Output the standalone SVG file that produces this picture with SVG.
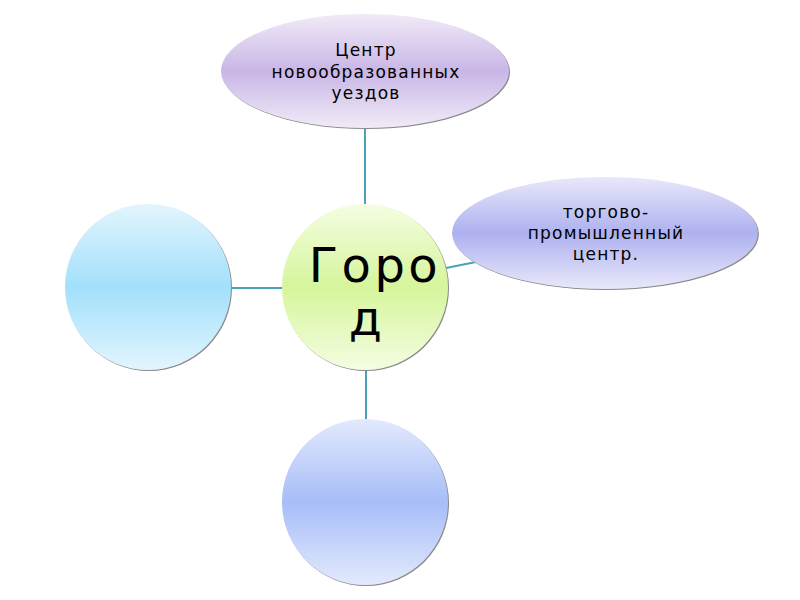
<svg xmlns="http://www.w3.org/2000/svg" width="800" height="600" viewBox="0 0 800 600">
<style>
.lbl{font-family:"DejaVu Sans","Liberation Sans",sans-serif;fill:#000;text-anchor:middle}
.sm{font-size:17px;letter-spacing:1.2px}
.conn{stroke:#4aa3b8;stroke-width:2;fill:none}
.shadow{fill:#8a8a8a}
</style>
<defs>
<linearGradient id="gPurple" x1="0" y1="0" x2="0" y2="1">
<stop offset="0" stop-color="#f1ebf7"/><stop offset="0.5" stop-color="#c8b6e6"/><stop offset="1" stop-color="#f1ebf7"/>
</linearGradient>
<linearGradient id="gGreen" x1="0" y1="0" x2="0" y2="1">
<stop offset="0" stop-color="#f4fde2"/><stop offset="0.5" stop-color="#d6f59c"/><stop offset="1" stop-color="#f4fde2"/>
</linearGradient>
<linearGradient id="gLav" x1="0" y1="0" x2="0" y2="1">
<stop offset="0" stop-color="#e8e8fb"/><stop offset="0.5" stop-color="#aeb1ef"/><stop offset="1" stop-color="#e8e8fb"/>
</linearGradient>
<linearGradient id="gSky" x1="0" y1="0" x2="0" y2="1">
<stop offset="0" stop-color="#e3f5fe"/><stop offset="0.5" stop-color="#a2e0fb"/><stop offset="1" stop-color="#e3f5fe"/>
</linearGradient>
<linearGradient id="gBlue" x1="0" y1="0" x2="0" y2="1">
<stop offset="0" stop-color="#e3eafd"/><stop offset="0.5" stop-color="#a7bdf8"/><stop offset="1" stop-color="#e3eafd"/>
</linearGradient>
</defs>
<g id="connectors">
<line class="conn" x1="365" y1="128" x2="365" y2="206"/>
<line class="conn" x1="231" y1="288" x2="283" y2="288"/>
<line class="conn" x1="446" y1="268" x2="476" y2="262"/>
<line class="conn" x1="366" y1="369" x2="366" y2="421"/>
</g>
<g id="top">
<ellipse class="shadow" cx="366" cy="72" rx="144" ry="57"/>
<ellipse cx="365" cy="71" rx="144" ry="57" fill="url(#gPurple)"/>
<text class="lbl sm"><tspan x="366" y="56">Центр</tspan><tspan x="366" y="78">новообразованных</tspan><tspan x="366" y="99">уездов</tspan></text>
</g>
<g id="center">
<circle class="shadow" cx="366" cy="288" r="83"/>
<circle cx="365" cy="287" r="83" fill="url(#gGreen)"/>
<text class="lbl" font-size="48" letter-spacing="3.5"><tspan x="375" y="282">Горо</tspan><tspan x="367" y="335">д</tspan></text>
</g>
<g id="right">
<ellipse class="shadow" cx="606" cy="234" rx="153" ry="56"/>
<ellipse cx="605" cy="233" rx="153" ry="56" fill="url(#gLav)"/>
<text class="lbl sm"><tspan x="606" y="218">торгово-</tspan><tspan x="606" y="239">промышленный</tspan><tspan x="606" y="260">центр.</tspan></text>
</g>
<g id="left">
<circle class="shadow" cx="149" cy="288" r="83"/>
<circle cx="148" cy="287" r="83" fill="url(#gSky)"/>
</g>
<g id="bottom">
<circle class="shadow" cx="366" cy="503" r="83"/>
<circle cx="365" cy="502" r="83" fill="url(#gBlue)"/>
</g>
</svg>
